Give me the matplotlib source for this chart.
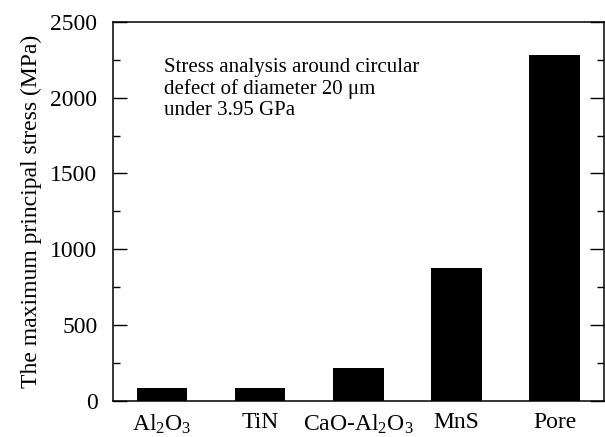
import matplotlib
matplotlib.use("Agg")
import matplotlib.pyplot as plt
from matplotlib.ticker import MultipleLocator

plt.rcParams['font.family'] = ['Liberation Serif', 'DejaVu Serif']
plt.rcParams['mathtext.fontset'] = 'custom'
plt.rcParams['mathtext.rm'] = 'Liberation Serif'
plt.rcParams['mathtext.it'] = 'Liberation Serif:italic'

# data
inclusions = ['Al$_2$O$_3$', 'TiN', 'CaO-Al$_2$O$_3$', 'MnS', 'Pore']
max_stress = [80, 80, 218, 877, 2280]

fig = plt.figure(figsize=(6.05, 4.37), dpi=100)
ax = fig.add_axes([0.1863, 0.0833, 0.8117, 0.8664])

x = range(len(inclusions))
ax.bar(x, max_stress, width=0.515, color='black')

ax.set_xlim(-0.5, 4.5)
ax.set_ylim(0, 2500)
ax.set_xticks(list(x))
ax.set_xticklabels(inclusions)
ax.yaxis.set_major_locator(MultipleLocator(500))
ax.yaxis.set_minor_locator(MultipleLocator(250))

ax.tick_params(axis='y', which='major', direction='in', length=10, width=1,
               left=True, right=True, labelsize=17, pad=11)
ax.tick_params(axis='y', which='minor', direction='in', length=5, width=1,
               left=True, right=True)
ax.tick_params(axis='x', which='both', bottom=False, top=False,
               labelsize=17, pad=5)
for s in ax.spines.values():
    s.set_linewidth(1.1)

ax.set_ylabel('The maximum principal stress (MPa)', fontsize=17, labelpad=6)

ax.text(0.105, 0.906,
        'Stress analysis around circular\ndefect of diameter 20 \u03bcm\nunder 3.95 GPa',
        transform=ax.transAxes, fontsize=15, va='top', ha='left',
        linespacing=1.15)

fig.savefig('out.png', dpi=100)
